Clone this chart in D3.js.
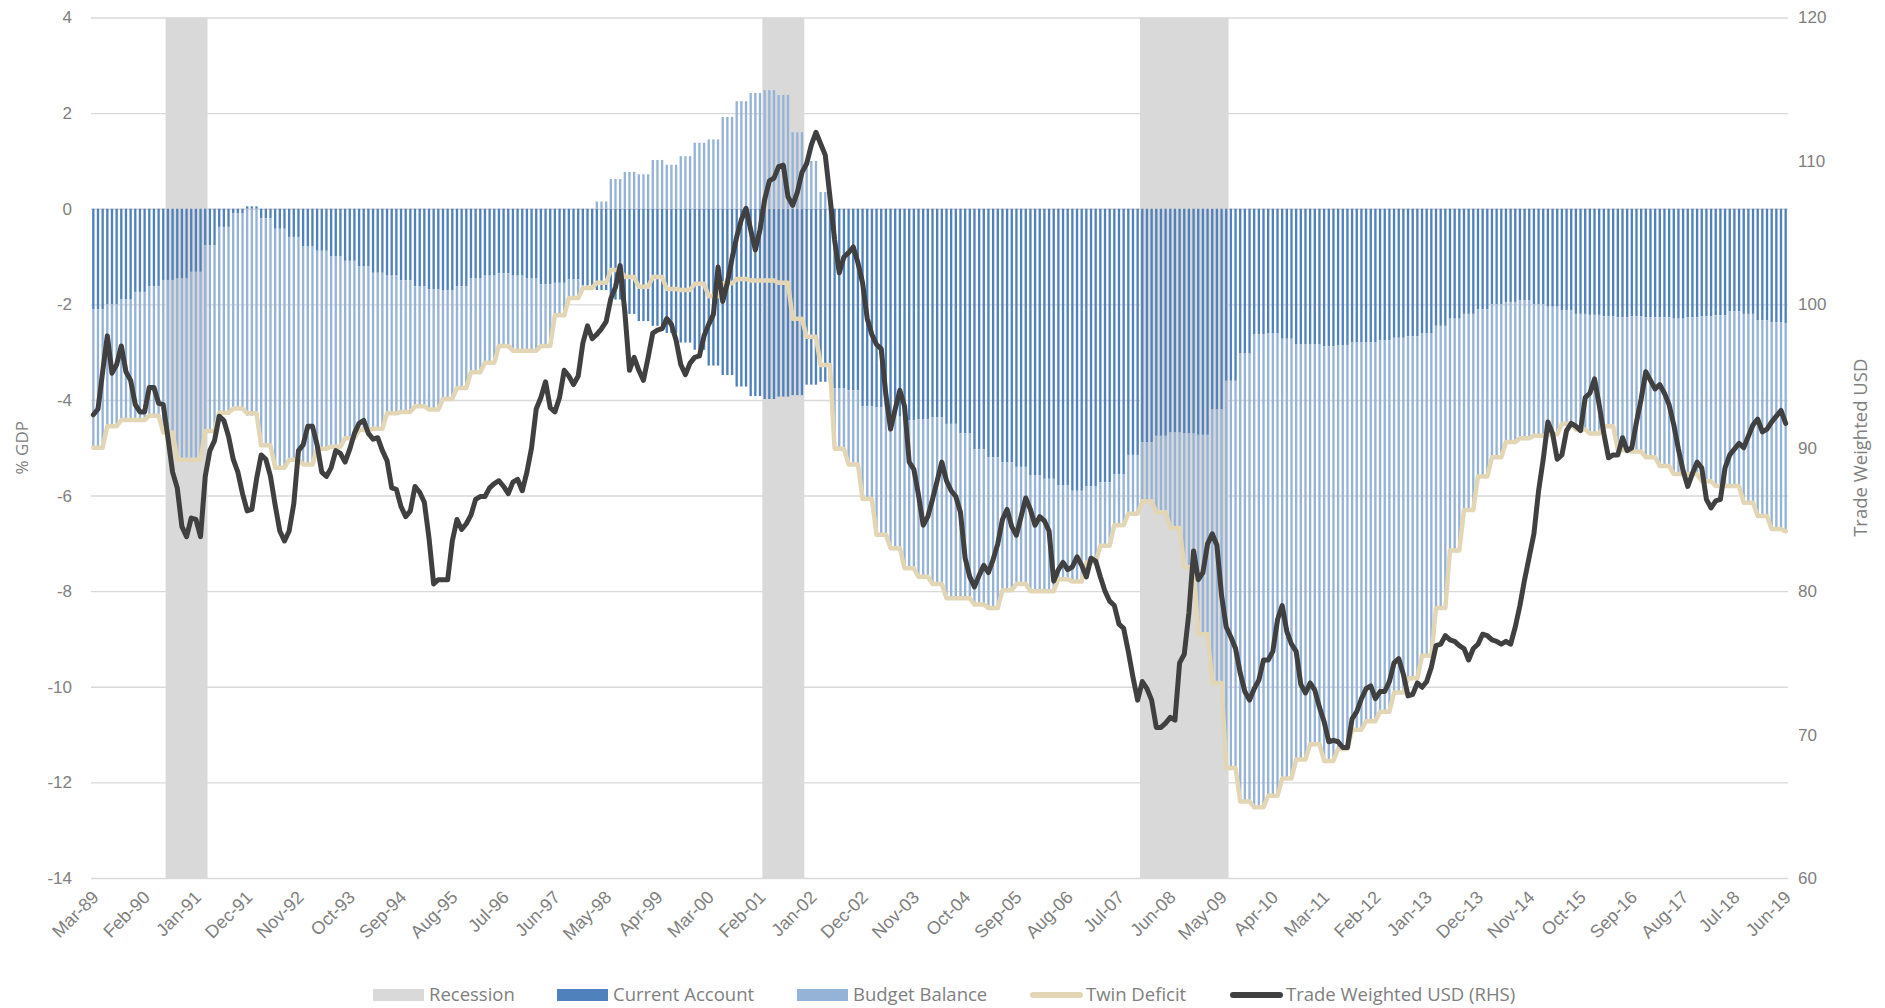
<!DOCTYPE html>
<html>
<head>
<meta charset="utf-8">
<title>Twin Deficit vs Trade Weighted USD</title>
<script src="https://cdn.jsdelivr.net/npm/d3@7"></script>
<style>
  html, body { margin: 0; padding: 0; background: #fff; }
  svg { display: block; font-family: 'Open Sans', sans-serif; }
</style>
</head>
<body>
<svg id="chart" width="1885" height="1008"></svg>
<script>
/* Twin deficit (% GDP) vs trade weighted USD — monthly axis, quarterly deficits */

// ─── Data ────────────────────────────────────────────────
const firstMonth = new Date(1989, 2, 1);   // Mar-89
const lastMonth = new Date(2019, 5, 1);    // Jun-19

const tickLabels = [
  'Mar-89', 'Feb-90', 'Jan-91', 'Dec-91', 'Nov-92', 'Oct-93', 'Sep-94', 'Aug-95', 'Jul-96',
  'Jun-97', 'May-98', 'Apr-99', 'Mar-00', 'Feb-01', 'Jan-02', 'Dec-02', 'Nov-03', 'Oct-04',
  'Sep-05', 'Aug-06', 'Jul-07', 'Jun-08', 'May-09', 'Apr-10', 'Mar-11', 'Feb-12', 'Jan-13',
  'Dec-13', 'Nov-14', 'Oct-15', 'Sep-16', 'Aug-17', 'Jul-18', 'Jun-19',
];

const recessions = [['Jul-90', 'Mar-91'], ['Mar-01', 'Nov-01'], ['Dec-07', 'Jun-09']];

// quarterly, each value held for three months starting Mar-89
const currentAccount = [
  -2.1, -2.0, -1.9, -1.74, -1.62, -1.49, -1.46, -1.32, -0.76, -0.38,
  -0.1, 0.05, -0.2, -0.42, -0.59, -0.78, -0.88, -1.0, -1.09, -1.21,
  -1.34, -1.4, -1.5, -1.62, -1.68, -1.7, -1.62, -1.45, -1.4, -1.35,
  -1.4, -1.45, -1.58, -1.55, -1.48, -1.6, -1.7, -1.9, -2.2, -2.35,
  -2.45, -2.6, -2.8, -2.95, -3.28, -3.48, -3.72, -3.92, -3.98, -3.93,
  -3.9, -3.68, -3.62, -3.75, -3.8, -4.13, -4.15, -4.35, -4.43, -4.4,
  -4.36, -4.5, -4.7, -5.03, -5.2, -5.3, -5.4, -5.57, -5.65, -5.78,
  -5.9, -5.8, -5.72, -5.55, -5.15, -4.88, -4.75, -4.68, -4.7, -4.73,
  -4.2, -3.6, -3.03, -2.62, -2.6, -2.72, -2.83, -2.83, -2.88, -2.85,
  -2.8, -2.8, -2.75, -2.7, -2.67, -2.6, -2.45, -2.3, -2.2, -2.1,
  -2.0, -1.95, -1.92, -2.0, -2.05, -2.13, -2.2, -2.22, -2.25, -2.27,
  -2.25, -2.27, -2.27, -2.3, -2.27, -2.25, -2.23, -2.15, -2.2, -2.33,
  -2.38, -2.4,
];

const budgetBalance = [
  -2.9, -2.55, -2.52, -2.68, -2.71, -3.19, -3.79, -3.93, -3.89, -3.89,
  -4.08, -4.33, -4.75, -5.0, -4.66, -4.57, -4.14, -3.98, -3.71, -3.42,
  -3.26, -2.88, -2.75, -2.51, -2.52, -2.28, -2.13, -1.97, -1.82, -1.52,
  -1.57, -1.52, -1.29, -0.68, -0.39, -0.06, 0.15, 0.62, 0.77, 0.72,
  1.02, 0.92, 1.1, 1.38, 1.45, 1.92, 2.25, 2.42, 2.48, 2.38,
  1.6, 1.0, 0.35, -1.27, -1.55, -1.94, -2.67, -2.75, -3.09, -3.3,
  -3.49, -3.65, -3.45, -3.25, -3.15, -2.68, -2.45, -2.43, -2.35, -1.97,
  -1.9, -1.6, -1.33, -1.07, -1.23, -1.24, -1.6, -2.0, -2.8, -4.17,
  -5.72, -8.1, -9.37, -9.9, -9.68, -9.2, -8.69, -8.37, -8.67, -8.45,
  -8.1, -7.92, -7.77, -7.42, -7.15, -6.75, -5.9, -4.85, -4.1, -3.5,
  -3.2, -2.93, -2.88, -2.75, -2.67, -2.37, -2.42, -2.48, -2.3, -2.78,
  -2.83, -2.93, -3.11, -3.25, -3.28, -3.45, -3.57, -3.65, -3.95, -4.1,
  -4.32, -4.35,
];

// monthly, Mar-89 .. Jun-19
const tradeWeightedUSD = [
  92.3, 92.7, 95.3, 97.8, 95.2, 95.8, 97.1, 95.3, 94.7, 93.0,
  92.5, 92.5, 94.2, 94.2, 93.1, 93.0, 90.7, 88.3, 87.2, 84.5,
  83.8, 85.1, 85.0, 83.8, 88.0, 89.8, 90.5, 92.2, 91.9, 90.8,
  89.2, 88.3, 86.8, 85.6, 85.7, 87.8, 89.5, 89.2, 88.0, 86.0,
  84.2, 83.5, 84.2, 86.1, 89.8, 90.2, 91.5, 91.5, 90.2, 88.3,
  88.0, 88.6, 89.8, 89.6, 89.0, 89.9, 91.0, 91.7, 91.9, 91.0,
  90.6, 90.7, 89.8, 89.1, 87.2, 87.1, 85.9, 85.2, 85.6, 87.3,
  86.9, 86.2, 83.7, 80.5, 80.8, 80.8, 80.8, 83.5, 85.0, 84.3,
  84.7, 85.3, 86.4, 86.6, 86.6, 87.2, 87.5, 87.7, 87.3, 86.8,
  87.6, 87.8, 87.0, 88.3, 90.0, 92.7, 93.5, 94.6, 92.8, 92.5,
  93.5, 95.4, 95.0, 94.4, 95.0, 97.3, 98.5, 97.6, 97.9, 98.3,
  98.8, 100.4, 101.2, 102.7, 99.5, 95.4, 96.3, 95.4, 94.7, 96.3,
  98.0, 98.2, 98.3, 99.0, 98.6, 97.5, 95.8, 95.1, 95.9, 96.3,
  96.4, 97.8, 98.6, 99.3, 102.6, 100.2, 101.5, 103.2, 104.7, 105.9,
  106.7, 105.2, 103.8, 105.2, 107.3, 108.6, 108.8, 109.6, 109.7, 107.5,
  106.9, 107.8, 109.2, 109.8, 111.1, 112.0, 111.2, 110.4, 107.5, 104.5,
  102.2, 103.3, 103.6, 104.0, 102.9, 101.5, 99.0, 97.9, 97.2, 96.9,
  93.7, 91.3, 92.7, 94.0, 92.9, 89.0, 88.5, 86.7, 84.6, 85.2,
  86.4, 87.7, 89.0, 87.7, 87.0, 86.6, 85.5, 82.3, 81.0, 80.3,
  81.1, 81.8, 81.3, 82.2, 83.3, 85.0, 85.7, 84.5, 83.9, 85.2,
  86.5, 85.7, 84.6, 85.2, 84.9, 84.2, 80.7, 81.5, 82.0, 81.5,
  81.7, 82.4, 81.8, 81.0, 82.3, 82.1, 81.0, 80.0, 79.3, 79.0,
  77.7, 77.4, 75.8, 74.0, 72.4, 73.7, 73.2, 72.4, 70.5, 70.5,
  70.8, 71.2, 71.0, 75.0, 75.6, 78.5, 82.8, 80.8, 81.3, 83.3,
  84.0, 83.2, 79.7, 77.5, 76.8, 76.0, 74.3, 73.0, 72.4, 73.2,
  73.8, 75.2, 75.2, 75.8, 78.0, 79.0, 77.2, 76.3, 75.8, 73.5,
  72.9, 73.6, 73.1, 71.9, 70.9, 69.5, 69.6, 69.5, 69.1, 69.1,
  71.1, 71.6, 72.5, 73.2, 73.4, 72.5, 73.0, 73.0, 73.7, 75.0,
  75.3, 74.2, 72.7, 72.8, 73.6, 73.3, 73.7, 74.7, 76.2, 76.3,
  76.9, 76.6, 76.5, 76.2, 76.0, 75.2, 76.0, 76.3, 77.0, 76.9,
  76.6, 76.5, 76.3, 76.5, 76.3, 77.5, 79.0, 80.8, 82.4, 84.0,
  87.0, 89.2, 91.8, 91.0, 89.2, 89.5, 91.2, 91.7, 91.5, 91.2,
  93.5, 93.8, 94.8, 93.0, 91.0, 89.3, 89.5, 89.5, 90.7, 89.8,
  90.0, 91.8, 93.4, 95.3, 94.7, 94.1, 94.4, 93.8, 93.0, 91.6,
  89.9, 88.4, 87.3, 88.2, 89.0, 88.6, 86.4, 85.8, 86.3, 86.4,
  88.6, 89.5, 89.9, 90.3, 90.0, 90.8, 91.6, 92.0, 91.1, 91.3,
  91.8, 92.2, 92.6, 91.7,
];

// ─── Colours ─────────────────────────────────────────────
const C = {
  recession: '#d9d9d9',
  ca: '#4f81bd',
  bb: '#95b3d7',
  twin: '#e2d6b4',
  usd: '#404040',
  grid: '#d9d9d9',
  text: '#808080',
};

// ─── Setup ───────────────────────────────────────────────
const fmt = d3.timeFormat('%b-%y');
const months = d3.timeMonth.range(firstMonth, d3.timeMonth.offset(lastMonth, 1)).map(fmt);

const rows = months.map((m, i) => ({
  month: m,
  ca: currentAccount[Math.floor(i / 3)],
  bb: budgetBalance[Math.floor(i / 3)],
  usd: tradeWeightedUSD[i],
}));

const plot = { left: 91, right: 1788, top: 17.5, bottom: 878 };

const x = d3.scaleBand().domain(months).range([plot.left, plot.right]);
const bw = x.bandwidth();
const cx = m => x(m) + bw / 2;
const yL = d3.scaleLinear().domain([-14, 4]).range([plot.bottom, plot.top]);
const yR = d3.scaleLinear().domain([60, 120]).range([plot.bottom, plot.top]);

const svg = d3.select('#chart');

// ─── Gridlines ───────────────────────────────────────────
svg.append('g')
  .attr('transform', `translate(${plot.left},0)`)
  .call(d3.axisLeft(yL).tickValues(d3.range(-14, 5, 2)).tickSize(-(plot.right - plot.left)).tickFormat(''))
  .call(g => g.select('.domain').remove())
  .call(g => g.selectAll('line').attr('stroke', C.grid).attr('stroke-width', 1.4));

// ─── Recession shading ───────────────────────────────────
svg.append('g').selectAll('rect')
  .data(recessions).join('rect')
  .attr('x', d => x(d[0]))
  .attr('width', d => x(d[1]) + bw - x(d[0]))
  .attr('y', yL(4))
  .attr('height', yL(-14) - yL(4))
  .attr('fill', C.recession);

// ─── Stacked bars ────────────────────────────────────────
const stacked = d3.stack().keys(['ca', 'bb']).offset(d3.stackOffsetDiverging)(rows);
const barColor = { ca: C.ca, bb: C.bb };

svg.append('g').selectAll('g')
  .data(stacked).join('g')
  .attr('fill', s => barColor[s.key])
  .selectAll('rect')
  .data(s => s).join('rect')
  .attr('x', d => x(d.data.month) + bw * 0.25)
  .attr('width', bw * 0.5)
  .attr('y', d => yL(Math.max(d[0], d[1])))
  .attr('height', d => Math.abs(yL(d[0]) - yL(d[1])));

// ─── Lines ───────────────────────────────────────────────
const twinLine = d3.line().x(d => cx(d.month)).y(d => yL(d.ca + d.bb));
const usdLine = d3.line().x(d => cx(d.month)).y(d => yR(d.usd));

svg.append('path')
  .datum(rows)
  .attr('d', twinLine)
  .attr('fill', 'none')
  .attr('stroke', C.twin)
  .attr('stroke-width', 4.5)
  .attr('stroke-linejoin', 'round')
  .attr('stroke-linecap', 'round');

svg.append('path')
  .datum(rows)
  .attr('d', usdLine)
  .attr('fill', 'none')
  .attr('stroke', C.usd)
  .attr('stroke-width', 5)
  .attr('stroke-linejoin', 'round')
  .attr('stroke-linecap', 'round');

// ─── Axes ────────────────────────────────────────────────
function styleAxis(g, size) {
  g.select('.domain').remove();
  g.selectAll('text').attr('fill', C.text).attr('font-size', size);
}

svg.append('g')
  .attr('transform', `translate(${plot.left},0)`)
  .call(d3.axisLeft(yL).tickValues(d3.range(-14, 5, 2)).tickSize(0).tickPadding(19).tickFormat(d => String(d)))
  .call(g => styleAxis(g, 17));

svg.append('g')
  .attr('transform', `translate(${plot.right},0)`)
  .call(d3.axisRight(yR).tickValues(d3.range(60, 121, 10)).tickSize(0).tickPadding(10).tickFormat(d => String(d)))
  .call(g => styleAxis(g, 17));

svg.append('g')
  .attr('transform', `translate(0,${plot.bottom})`)
  .call(d3.axisBottom(x).tickValues(tickLabels).tickSize(0))
  .call(g => styleAxis(g, 18))
  .call(g => g.selectAll('text')
    .attr('text-anchor', 'end')
    .attr('x', 0).attr('y', 0).attr('dy', '0.35em')
    .attr('transform', 'translate(2,16) rotate(-45)'));

// axis titles
svg.append('text')
  .attr('transform', `translate(22,${(plot.top + plot.bottom) / 2}) rotate(-90)`)
  .attr('text-anchor', 'middle').attr('dy', '0.35em')
  .attr('fill', C.text).attr('font-size', 17)
  .text('% GDP');

svg.append('text')
  .attr('transform', `translate(1861,${(plot.top + plot.bottom) / 2}) rotate(-90)`)
  .attr('text-anchor', 'middle').attr('dy', '0.35em')
  .attr('fill', C.text).attr('font-size', 18.5)
  .text('Trade Weighted USD');

// ─── Legend ──────────────────────────────────────────────
const legendItems = [
  { label: 'Recession', color: C.recession, type: 'rect', x: 373 },
  { label: 'Current Account', color: C.ca, type: 'rect', x: 557 },
  { label: 'Budget Balance', color: C.bb, type: 'rect', x: 797 },
  { label: 'Twin Deficit', color: C.twin, type: 'line', x: 1030 },
  { label: 'Trade Weighted USD (RHS)', color: C.usd, type: 'line', x: 1230 },
];
const legendY = 995;

const legend = svg.append('g').selectAll('g')
  .data(legendItems).join('g')
  .attr('transform', d => `translate(${d.x},${legendY})`);

legend.filter(d => d.type === 'rect').append('rect')
  .attr('x', 0).attr('y', -6).attr('width', 51).attr('height', 12)
  .attr('fill', d => d.color);

legend.filter(d => d.type === 'line').append('line')
  .attr('x1', 3).attr('x2', 50).attr('y1', 0).attr('y2', 0)
  .attr('stroke', d => d.color).attr('stroke-width', 6).attr('stroke-linecap', 'round');

legend.append('text')
  .attr('x', 56).attr('dy', '0.35em')
  .attr('fill', C.text).attr('font-size', 18.5)
  .text(d => d.label);
</script>
</body>
</html>
